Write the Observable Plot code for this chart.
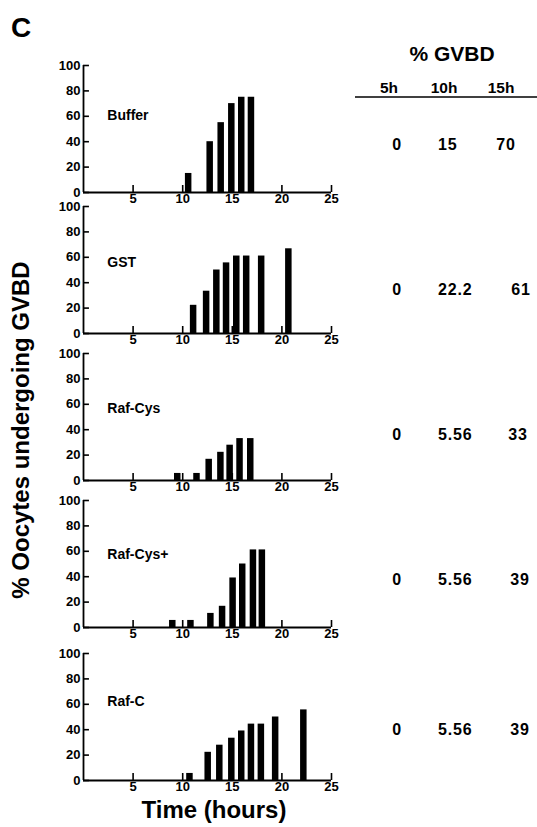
<!DOCTYPE html>
<html>
<head>
<meta charset="utf-8">
<script src="https://cdn.jsdelivr.net/npm/d3@7"></script>
<script src="https://cdn.jsdelivr.net/npm/@observablehq/plot@0.6"></script>
<style>
  html, body { margin: 0; padding: 0; background: #fff; }
  #wrap { position: relative; width: 537px; height: 827px; overflow: hidden; background: #fff; }
  #wrap > svg { position: absolute; left: 0; }
</style>
</head>
<body>
<div id="wrap"></div>
<script>
// ---------- data ----------
const panelNames = ["Buffer", "GST", "Raf-Cys", "Raf-Cys+", "Raf-C"];

const bufferTime = [10.55, 12.72, 13.83, 14.9, 15.9, 16.88];
const bufferGVBD = [15, 40, 55, 70, 75, 75];

const gstTime = [11.05, 12.36, 13.39, 14.37, 15.4, 16.4, 17.91, 20.65];
const gstGVBD = [22.2, 33.3, 50, 55.6, 61, 61, 61, 66.7];

const rafCysTime = [9.45, 11.39, 12.62, 13.8, 14.73, 15.73, 16.81];
const rafCysGVBD = [5.56, 5.56, 16.7, 22.2, 27.8, 33, 33];

const rafCysPlusTime = [8.95, 10.78, 12.79, 13.97, 15.03, 16.0, 17.08, 17.98];
const rafCysPlusGVBD = [5.56, 5.56, 11.1, 16.7, 39, 50, 61.1, 61.1];

const rafCTime = [10.68, 12.52, 13.69, 14.9, 15.9, 16.88, 17.88, 19.32, 22.16];
const rafCGVBD = [5.56, 22.2, 27.8, 33.3, 39, 44.4, 44.4, 50, 55.6];

const xTicks = [5, 10, 15, 20, 25];
const yTicks = [0, 20, 40, 60, 80, 100];

const tableTitle = "% GVBD";
const gvbdHeaders = ["5h", "10h", "15h"];
const gvbd5h = ["0", "0", "0", "0", "0"];
const gvbd10h = ["15", "22.2", "5.56", "5.56", "5.56"];
const gvbd15h = ["70", "61", "33", "39", "39"];

const panelLetter = "C";
const xTitle = "Time (hours)";
const yTitle = "% Oocytes undergoing GVBD";

// ---------- layout ----------
const FONT = "'Liberation Sans', Arial, Helvetica, sans-serif";
const series = [
  [bufferTime, bufferGVBD],
  [gstTime, gstGVBD],
  [rafCysTime, rafCysGVBD],
  [rafCysPlusTime, rafCysPlusGVBD],
  [rafCTime, rafCGVBD]
];
const panelTops = [65, 206, 353, 500, 653];
const labelY = [61, 56, 56.5, 57.5, 62];
const plotH = 127, mTop = 10, mBottom = 22;

const wrap = document.getElementById("wrap");

series.forEach(([times, vals], i) => {
  const data = times.map((t, j) => ({t, v: vals[j]}));
  const chart = Plot.plot({
    width: 345,
    height: mTop + plotH + mBottom,
    marginLeft: 83,
    marginRight: 14,
    marginTop: mTop,
    marginBottom: mBottom,
    x: {domain: [0, 25]},
    y: {domain: [0, 100]},
    style: {fontFamily: FONT, fontWeight: "bold", color: "#000", background: "transparent", overflow: "visible"},
    marks: [
      Plot.ruleX(data, {x: "t", y1: 0, y2: "v", stroke: "#000", strokeWidth: 6.5}),
      Plot.ruleX([0], {y1: 0, y2: 100, stroke: "#000", strokeWidth: 1.8}),
      Plot.ruleY([0], {x1: 0, x2: 25, stroke: "#000", strokeWidth: 1.8}),
      Plot.ruleX(xTicks, {x: d => d, y1: 0, y2: 5.5, stroke: "#000", strokeWidth: 1.6}),
      Plot.ruleY(yTicks, {y: d => d, x1: 0, x2: 0.6, stroke: "#000", strokeWidth: 1.6}),
      Plot.axisX({ticks: xTicks, tickSize: 0, tickPadding: 1.5, fontSize: 13, label: null}),
      Plot.axisY({ticks: yTicks, tickSize: 0, tickPadding: 3, fontSize: 13, label: null}),
      Plot.text([panelNames[i]], {x: 2.4, y: labelY[i], text: d => d, textAnchor: "start", fontSize: 14, fontWeight: "bold", fill: "#000"})
    ]
  });
  chart.style.top = (panelTops[i] - mTop) + "px";
  wrap.appendChild(chart);
});

// ---------- overlay text (titles and table) ----------
const svg = d3.select(wrap).append("svg")
  .attr("width", 537).attr("height", 827)
  .style("top", "0px")
  .attr("font-family", FONT).attr("font-weight", "bold").attr("fill", "#000");

svg.append("text").attr("x", 11).attr("y", 37).attr("font-size", 28).text(panelLetter);

svg.append("text").attr("x", 214).attr("y", 818).attr("font-size", 24)
  .attr("text-anchor", "middle").text(xTitle);

svg.append("text").attr("transform", "translate(29,430) rotate(-90)")
  .attr("font-size", 24).attr("text-anchor", "middle").text(yTitle);

svg.append("text").attr("x", 452).attr("y", 61).attr("font-size", 21)
  .attr("text-anchor", "middle").text(tableTitle);

const headerX = [389, 444, 501];
gvbdHeaders.forEach((h, k) => {
  svg.append("text").attr("x", headerX[k]).attr("y", 93).attr("font-size", 15.5)
    .attr("text-anchor", "middle").text(h);
});
svg.append("line").attr("x1", 355).attr("x2", 537).attr("y1", 97).attr("y2", 97)
  .attr("stroke", "#000").attr("stroke-width", 1.6);

const rowBaseline = [150, 295, 440, 585, 735];
const col3Center = [506, 521, 518, 520, 520];
gvbd5h.forEach((v, r) => {
  svg.append("text").attr("x", 397).attr("y", rowBaseline[r]).attr("font-size", 16)
    .attr("letter-spacing", "0.8px").attr("text-anchor", "middle").text(v);
});
gvbd10h.forEach((v, r) => {
  svg.append("text").attr("x", 438).attr("y", rowBaseline[r]).attr("font-size", 16)
    .attr("letter-spacing", "0.8px").attr("text-anchor", "start").text(v);
});
gvbd15h.forEach((v, r) => {
  svg.append("text").attr("x", col3Center[r]).attr("y", rowBaseline[r]).attr("font-size", 16)
    .attr("letter-spacing", "0.8px").attr("text-anchor", "middle").text(v);
});
</script>
</body>
</html>
